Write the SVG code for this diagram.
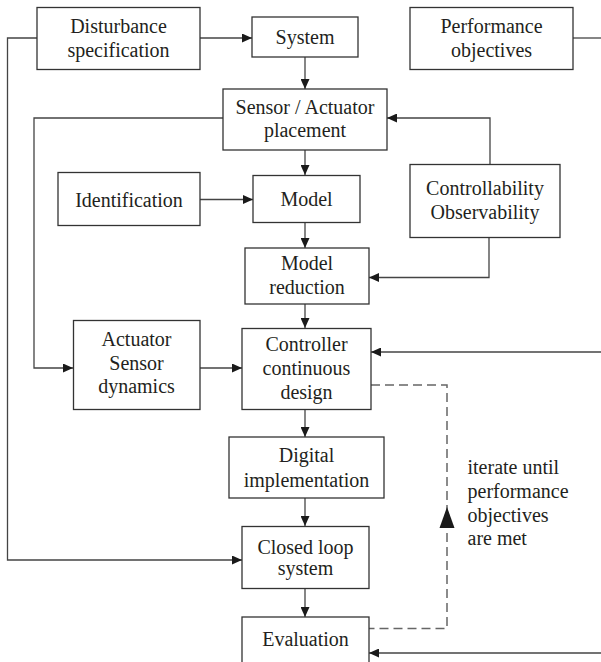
<svg xmlns="http://www.w3.org/2000/svg" width="601" height="662" viewBox="0 0 601 662">
<style>
.box{fill:#fff;stroke:#333;stroke-width:1.3}
.t{font-family:"Liberation Serif","Times New Roman",serif;font-size:20px;fill:#231f20;text-anchor:middle}
.tl{font-family:"Liberation Serif","Times New Roman",serif;font-size:20px;fill:#231f20}
.ln{fill:none;stroke:#444;stroke-width:1.3}
.arr{marker-end:url(#ah)}
.dash{fill:none;stroke:#666;stroke-width:1.5;stroke-dasharray:9 5}
</style>
<defs>
<marker id="ah" markerUnits="userSpaceOnUse" markerWidth="10" markerHeight="9" refX="10" refY="4.5" orient="auto">
<path d="M0,0 L10,4.5 L0,9 z" fill="#1a1a1a"/>
</marker>
</defs>
<rect width="601" height="662" fill="#fff"/>
<g id="connectors">
<polyline class="ln arr" points="37,38 7.5,38 7.5,560 242,560"/>
<line class="ln arr" x1="200" y1="38" x2="252" y2="38"/>
<line class="ln arr" x1="305" y1="57" x2="305" y2="89"/>
<line class="ln" x1="573" y1="38" x2="601" y2="38"/>
<polyline class="ln arr" points="223,118 34,118 34,368 73,368"/>
<polyline class="ln arr" points="490,164 490,118 387,118"/>
<line class="ln arr" x1="305" y1="150" x2="305" y2="175"/>
<line class="ln arr" x1="200" y1="199.5" x2="253" y2="199.5"/>
<line class="ln arr" x1="305" y1="222" x2="305" y2="248"/>
<polyline class="ln arr" points="489,237 489,277.5 369,277.5"/>
<line class="ln arr" x1="305" y1="304" x2="305" y2="328"/>
<line class="ln arr" x1="200" y1="368" x2="242" y2="368"/>
<line class="ln arr" x1="601" y1="352" x2="371" y2="352"/>
<line class="ln arr" x1="305" y1="409" x2="305" y2="437"/>
<line class="ln arr" x1="305" y1="498" x2="305" y2="526"/>
<line class="ln arr" x1="305" y1="588" x2="305" y2="617"/>
<line class="ln arr" x1="601" y1="653" x2="369" y2="653"/>
<polyline class="dash" points="371,385 447,385 447,628.5 369,628.5"/>
<polygon points="447,507 439.5,528 454.5,528" fill="#1a1a1a"/>
</g>
<g id="disturbance">
<rect class="box" x="37" y="7.5" width="163" height="62"/>
<text class="t" x="118.5" y="33">Disturbance</text>
<text class="t" x="118.5" y="57">specification</text>
</g>
<g id="system">
<rect class="box" x="252" y="17" width="106" height="40"/>
<text class="t" x="305" y="43.5">System</text>
</g>
<g id="performance">
<rect class="box" x="410" y="7.5" width="163" height="62"/>
<text class="t" x="491.5" y="33">Performance</text>
<text class="t" x="491.5" y="57">objectives</text>
</g>
<g id="sensor-actuator">
<rect class="box" x="223" y="89" width="164" height="61"/>
<text class="t" x="305" y="113.5">Sensor / Actuator</text>
<text class="t" x="305" y="137">placement</text>
</g>
<g id="identification">
<rect class="box" x="58" y="172.5" width="142" height="53"/>
<text class="t" x="129" y="206.5">Identification</text>
</g>
<g id="model">
<rect class="box" x="253" y="175.5" width="107" height="47"/>
<text class="t" x="306.5" y="205.5">Model</text>
</g>
<g id="controllability">
<rect class="box" x="410" y="164.5" width="150" height="73"/>
<text class="t" x="485" y="195">Controllability</text>
<text class="t" x="485" y="218.5">Observability</text>
</g>
<g id="model-reduction">
<rect class="box" x="245" y="248" width="124" height="56"/>
<text class="t" x="307" y="270">Model</text>
<text class="t" x="307" y="293.5">reduction</text>
</g>
<g id="actuator-sensor">
<rect class="box" x="73.5" y="320.5" width="126.5" height="89"/>
<text class="t" x="136.5" y="346">Actuator</text>
<text class="t" x="136.5" y="369.5">Sensor</text>
<text class="t" x="136.5" y="393">dynamics</text>
</g>
<g id="controller">
<rect class="box" x="242" y="328.5" width="129" height="81"/>
<text class="t" x="306.5" y="351">Controller</text>
<text class="t" x="306.5" y="375">continuous</text>
<text class="t" x="306.5" y="398.5">design</text>
</g>
<g id="digital">
<rect class="box" x="229" y="437" width="155" height="61"/>
<text class="t" x="306.5" y="462">Digital</text>
<text class="t" x="306.5" y="486.5">implementation</text>
</g>
<g id="closed-loop">
<rect class="box" x="242" y="526.5" width="127" height="62"/>
<text class="t" x="305.5" y="553.5">Closed loop</text>
<text class="t" x="305.5" y="575">system</text>
</g>
<g id="evaluation">
<rect class="box" x="242" y="617" width="127" height="60"/>
<text class="t" x="305.5" y="646">Evaluation</text>
</g>
<g id="note">
<text class="tl" x="467.5" y="473.5">iterate until</text>
<text class="tl" x="467.5" y="497.5">performance</text>
<text class="tl" x="467.5" y="521.5">objectives</text>
<text class="tl" x="467.5" y="545">are met</text>
</g>
</svg>
